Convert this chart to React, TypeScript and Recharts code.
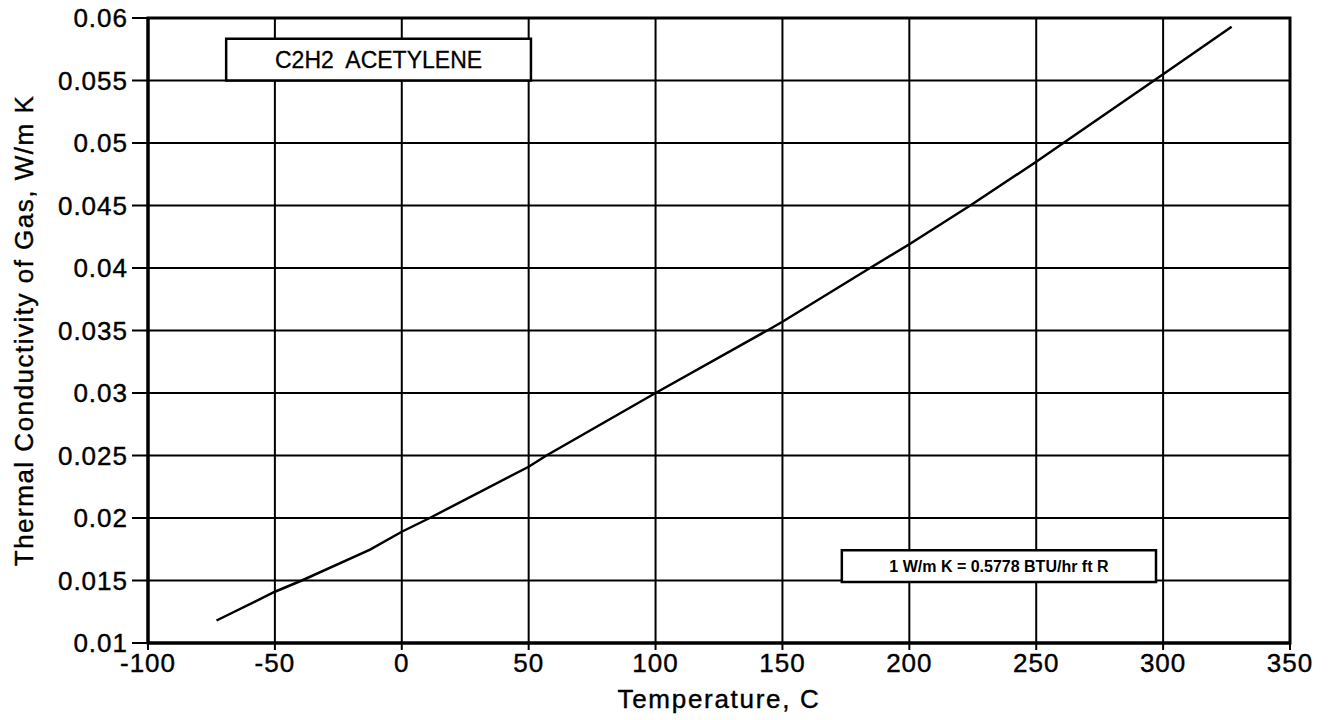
import React from 'react'
import { LineChart, Line, XAxis, YAxis, CartesianGrid, ReferenceArea } from 'recharts'

// temperature (C) and gas thermal conductivity (W/m K)
const tempC = [-73, -50, -39.4, -12.5, 0, 11, 50, 57, 100, 144, 150, 184.5, 200, 224, 250, 260.7, 300, 327]
const conductivity = [0.0118, 0.0141, 0.015, 0.01747, 0.0189, 0.02, 0.0241, 0.025, 0.03, 0.035, 0.0357, 0.04, 0.0419, 0.045, 0.0485, 0.05, 0.0555, 0.0593]

const xTicks = [-100, -50, 0, 50, 100, 150, 200, 250, 300, 350]
const yTicks = [0.01, 0.015, 0.02, 0.025, 0.03, 0.035, 0.04, 0.045, 0.05, 0.055, 0.06]

const data = tempC.map((t, i) => ({ t, k: conductivity[i] }))

const font = '"Liberation Sans", Arial, Helvetica, sans-serif'
const tickStyle = { fill: '#000', stroke: '#000', strokeWidth: 0.4, fontSize: 26, fontFamily: font, letterSpacing: 1 }

export default function App() {
  return (
    <div style={{ position: 'absolute', left: 0, top: 0, width: 1330, height: 720, background: '#fff' }}>
      <LineChart width={1330} height={720} data={data} margin={{ top: 18, right: 40, bottom: 0, left: 0 }}>
        <CartesianGrid stroke="#000" strokeWidth={2} />
        <XAxis
          dataKey="t"
          type="number"
          domain={[-100, 350]}
          ticks={xTicks}
          interval={0}
          height={77}
          tick={tickStyle}
          tickSize={7}
          tickMargin={4}
          axisLine={{ stroke: '#000', strokeWidth: 3 }}
          tickLine={{ stroke: '#000', strokeWidth: 2 }}
          label={{ value: 'Temperature, C', position: 'insideBottom', offset: 12, fill: '#000', stroke: '#000', strokeWidth: 0.4, fontSize: 26, fontFamily: font, letterSpacing: 1.7 }}
        />
        <YAxis
          type="number"
          domain={[0.01, 0.06]}
          ticks={yTicks}
          interval={0}
          width={148}
          tick={tickStyle}
          tickSize={16}
          tickMargin={4}
          axisLine={{ stroke: '#000', strokeWidth: 3 }}
          tickLine={{ stroke: '#000', strokeWidth: 2 }}
          label={{ value: 'Thermal Conductivity of Gas, W/m K', angle: -90, position: 'insideLeft', offset: 24, fill: '#000', stroke: '#000', strokeWidth: 0.4, fontSize: 26, fontFamily: font, letterSpacing: 1.5, style: { textAnchor: 'middle' } }}
        />
        <ReferenceArea x1={-100} x2={350} y1={0.01} y2={0.06} fill="none" stroke="#000" strokeWidth={3} />
        <ReferenceArea
          x1={-69.2}
          x2={50.9}
          y1={0.055}
          y2={0.05835}
          fill="#fff"
          fillOpacity={1}
          stroke="#000"
          strokeWidth={2.5}
          label={{ value: 'C2H2\u00a0 ACETYLENE', position: 'center', fill: '#000', stroke: '#000', strokeWidth: 0.3, fontSize: 23, fontFamily: font }}
        />
        <ReferenceArea
          x1={173.4}
          x2={297.2}
          y1={0.01488}
          y2={0.01742}
          fill="#fff"
          fillOpacity={1}
          stroke="#000"
          strokeWidth={2.5}
          label={{ value: '1 W/m K = 0.5778 BTU/hr ft R', position: 'center', fill: '#000', fontSize: 16, fontWeight: 'bold', fontFamily: font }}
        />
        <Line dataKey="k" type="linear" stroke="#000" strokeWidth={2.5} dot={false} isAnimationActive={false} />
      </LineChart>
    </div>
  )
}
